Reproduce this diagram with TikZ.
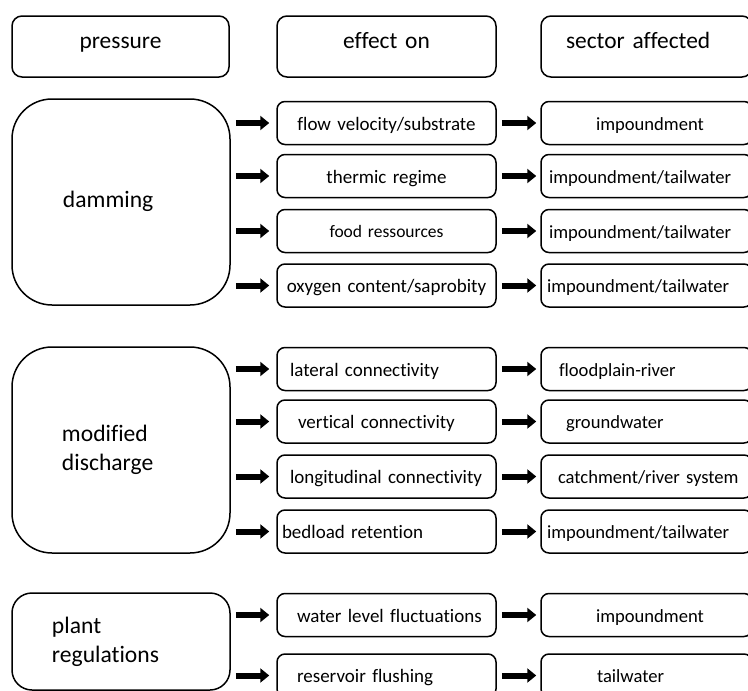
\documentclass[tikz,border=0pt]{standalone}
\usepackage{fontspec}
\setmainfont{Carlito}[Ligatures={NoCommon}]
\usetikzlibrary{arrows.meta}
\begin{document}
\begin{tikzpicture}[x=1pt,y=-1pt,
  box/.style={draw, line width=1.5pt, inner xsep=0pt, inner ysep=0pt, align=left},
  hdr/.style={box, rounded corners=10pt, minimum height=61pt, text height=11.7pt, text depth=7pt, font=\fontsize{23.4}{28}\selectfont},
  prs/.style={box, rounded corners=40pt, text width=218pt, font=\fontsize{23.6}{29}\selectfont},
  eff/.style={box, rounded corners=8pt, minimum height=43pt, text width=219pt, text height=14.2pt, text depth=0pt, font=\fontsize{19}{23}\selectfont},
  sec/.style={box, rounded corners=8pt, minimum height=43pt, text width=211pt, text height=14pt, text depth=0pt, font=\fontsize{18.6}{22}\selectfont},
  ctr/.style={align=center},
  arr/.style={line width=6pt, -{Triangle[length=9pt,width=14pt]}}
]
\useasboundingbox (0,0) rectangle (748,691);
\clip (0,0) rectangle (748,691);
% headers
\node[hdr, text width=217pt, ctr] (hp) at (120.5,46.5) {pressure};
\node[hdr, text width=219pt, ctr] (he) at (386.5,46.5) {effect on};
\node[hdr, text width=211pt] (hs) at (646.5,46.5) {\hspace*{25pt}sector affected};
% pressures
\node[prs, minimum height=206pt, text height=13pt, text depth=3pt] (dam) at (121,202) {\hspace*{51pt}damming};
\node[prs, minimum height=206pt] (mod) at (121,450) {\hspace*{50pt}modified\\\hspace*{50pt}discharge};
\node[prs, minimum height=97pt, rounded corners=20pt] (pla) at (121,641.5) {\hspace*{40pt}plant\\\hspace*{40pt}regulations};
% effects
\node[eff, ctr] (d1) at (386.5,123) {flow velocity/substrate};
\node[eff, ctr] (d2) at (386.5,176) {thermic regime};
\node[eff, ctr, font=\fontsize{17.5}{21}\selectfont, text height=13.5pt] (d3) at (386.5,231) {food ressources};
\node[eff, ctr] (d4) at (386.5,285.5) {oxygen content/saprobity};
\node[eff] (m1) at (386.5,369) {\hspace*{13pt}lateral connectivity};
\node[eff] (m2) at (386.5,421.5) {\hspace*{21pt}vertical connectivity};
\node[eff] (m3) at (386.5,476.5) {\hspace*{13pt}longitudinal connectivity};
\node[eff] (m4) at (386.5,531.5) {\hspace*{5pt}bedload retention};
\node[eff] (p1) at (386.5,615) {\hspace*{20pt}water level fluctuations};
\node[eff] (p2) at (386.5,675.5) {\hspace*{20pt}reservoir flushing};
% sectors
\node[sec] (sd1) at (646.5,123) {\hspace*{55pt}impoundment};
\node[sec] (sd2) at (646.5,176) {\hspace*{8pt}impoundment/tailwater};
\node[sec] (sd3) at (646.5,231) {\hspace*{8pt}impoundment/tailwater};
\node[sec] (sd4) at (646.5,285.5) {\hspace*{6pt}impoundment/tailwater};
\node[sec] (sm1) at (646.5,369) {\hspace*{18pt}floodplain-river};
\node[sec] (sm2) at (646.5,421.5) {\hspace*{25pt}groundwater};
\node[sec] (sm3) at (646.5,476.5) {\hspace*{17pt}catchment/river system};
\node[sec] (sm4) at (646.5,531.5) {\hspace*{6pt}impoundment/tailwater};
\node[sec] (sp1) at (646.5,615) {\hspace*{55pt}impoundment};
\node[sec] (sp2) at (646.5,675.5) {\hspace*{56pt}tailwater};
% arrows pressure -> effect
\foreach \e in {d1,d2,d3,d4}
  \draw[arr, shorten <=5pt, shorten >=7pt] (dam.east |- \e.west) -- (\e.west);
\foreach \e in {m1,m2,m3,m4}
  \draw[arr, shorten <=5pt, shorten >=7pt] (mod.east |- \e.west) -- (\e.west);
\foreach \e in {p1,p2}
  \draw[arr, shorten <=5pt, shorten >=7pt] (pla.east |- \e.west) -- (\e.west);
% arrows effect -> sector
\foreach \e/\s in {d1/sd1,d2/sd2,d3/sd3,d4/sd4,m1/sm1,m2/sm2,m3/sm3,m4/sm4,p1/sp1,p2/sp2}
  \draw[arr, shorten <=5pt, shorten >=4pt] (\e) -- (\s);
\end{tikzpicture}
\end{document}
